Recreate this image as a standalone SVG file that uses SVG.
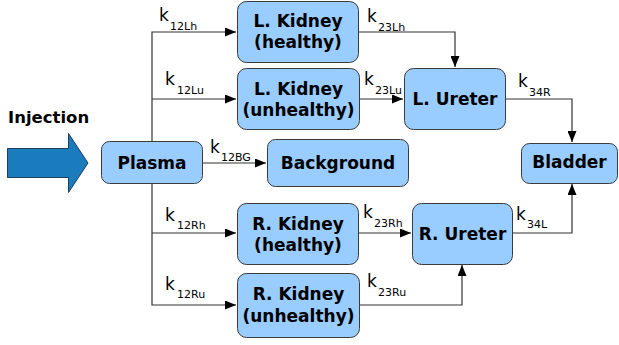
<svg xmlns="http://www.w3.org/2000/svg" width="619" height="345" viewBox="0 0 619 345">
<style>
.box{fill:#99ccff;stroke:#3a3a3a;stroke-width:1}
.lbl{font-family:"DejaVu Sans",sans-serif;font-weight:bold;font-size:17px;fill:#000;text-anchor:middle}
.k{font-family:"DejaVu Sans",sans-serif;font-size:17px;fill:#000}
.sub{font-size:11px}
.con{fill:none;stroke:#333;stroke-width:1.2}
</style>
<defs>
<marker id="ah" markerWidth="11" markerHeight="9" refX="11" refY="4.5" orient="auto" markerUnits="userSpaceOnUse">
<path d="M0,0 L11,4.5 L0,9 Z" fill="#000"/>
</marker>
</defs>
<rect width="619" height="345" fill="#fff"/>
<g id="injection">
<path d="M7.5,148.5 H68.5 V133.5 L88,163 L68.5,192.5 V177.5 H7.5 Z" fill="#1a7bbd" stroke="#1d3d5c" stroke-width="1"/>
<text x="8" y="123" class="lbl" style="text-anchor:start;font-size:16.5px">Injection</text>
</g>
<g id="connectors">
<path class="con" d="M152,141 V32 H236" marker-end="url(#ah)"/>
<path class="con" d="M152,99 H236" marker-end="url(#ah)"/>
<path class="con" d="M152,183 V305 H236" marker-end="url(#ah)"/>
<path class="con" d="M152,233 H236" marker-end="url(#ah)"/>
<path class="con" d="M202,163 H266" marker-end="url(#ah)"/>
<path class="con" d="M358,32 H455 V67" marker-end="url(#ah)"/>
<path class="con" d="M359,99 H403" marker-end="url(#ah)"/>
<path class="con" d="M505,99 H572 V142" marker-end="url(#ah)"/>
<path class="con" d="M358,233 H411" marker-end="url(#ah)"/>
<path class="con" d="M359,305 H462 V265" marker-end="url(#ah)"/>
<path class="con" d="M512,233 H572 V184" marker-end="url(#ah)"/>
<text class="k" x="159" y="21">k<tspan class="sub" x="170" y="30">12Lh</tspan></text>
<text class="k" x="165" y="85">k<tspan class="sub" x="177" y="94">12Lu</tspan></text>
<text class="k" x="210" y="153">k<tspan class="sub" x="221" y="161">12BG</tspan></text>
<text class="k" x="367" y="22">k<tspan class="sub" x="378" y="31">23Lh</tspan></text>
<text class="k" x="364" y="85">k<tspan class="sub" x="375" y="94">23Lu</tspan></text>
<text class="k" x="518" y="87">k<tspan class="sub" x="529" y="96">34R</tspan></text>
<text class="k" x="165" y="221">k<tspan class="sub" x="177" y="229">12Rh</tspan></text>
<text class="k" x="165" y="290">k<tspan class="sub" x="177" y="298">12Ru</tspan></text>
<text class="k" x="363" y="218">k<tspan class="sub" x="374" y="227">23Rh</tspan></text>
<text class="k" x="367" y="287">k<tspan class="sub" x="378" y="296">23Ru</tspan></text>
<text class="k" x="516" y="220">k<tspan class="sub" x="527" y="228">34L</tspan></text>
</g>
<g id="lkh">
<rect class="box" x="237.5" y="1.5" width="121" height="61" rx="9"/>
<text class="lbl" x="298" y="27">L. Kidney</text>
<text class="lbl" x="298" y="48">(healthy)</text>
</g>
<g id="lku">
<rect class="box" x="237.5" y="68.5" width="122" height="61" rx="9"/>
<text class="lbl" x="298.5" y="95">L. Kidney</text>
<text class="lbl" x="298.5" y="116">(unhealthy)</text>
</g>
<g id="plasma">
<rect class="box" x="101.5" y="141.5" width="101" height="42" rx="8"/>
<text class="lbl" x="152" y="169">Plasma</text>
</g>
<g id="background">
<rect class="box" x="267.5" y="139.5" width="141" height="47" rx="8"/>
<text class="lbl" x="338" y="169">Background</text>
</g>
<g id="lureter">
<rect class="box" x="404.5" y="68.5" width="101" height="61" rx="9"/>
<text class="lbl" x="455" y="105">L. Ureter</text>
</g>
<g id="bladder">
<rect class="box" x="521.5" y="143.5" width="96" height="40" rx="8"/>
<text class="lbl" x="569.5" y="168">Bladder</text>
</g>
<g id="rkh">
<rect class="box" x="237.5" y="203.5" width="121" height="61" rx="9"/>
<text class="lbl" x="298" y="230">R. Kidney</text>
<text class="lbl" x="298" y="251">(healthy)</text>
</g>
<g id="rku">
<rect class="box" x="237.5" y="273.5" width="122" height="64" rx="9"/>
<text class="lbl" x="298.5" y="300">R. Kidney</text>
<text class="lbl" x="298.5" y="322">(unhealthy)</text>
</g>
<g id="rureter">
<rect class="box" x="412.5" y="203.5" width="100" height="61" rx="9"/>
<text class="lbl" x="462.5" y="240">R. Ureter</text>
</g>
</svg>
